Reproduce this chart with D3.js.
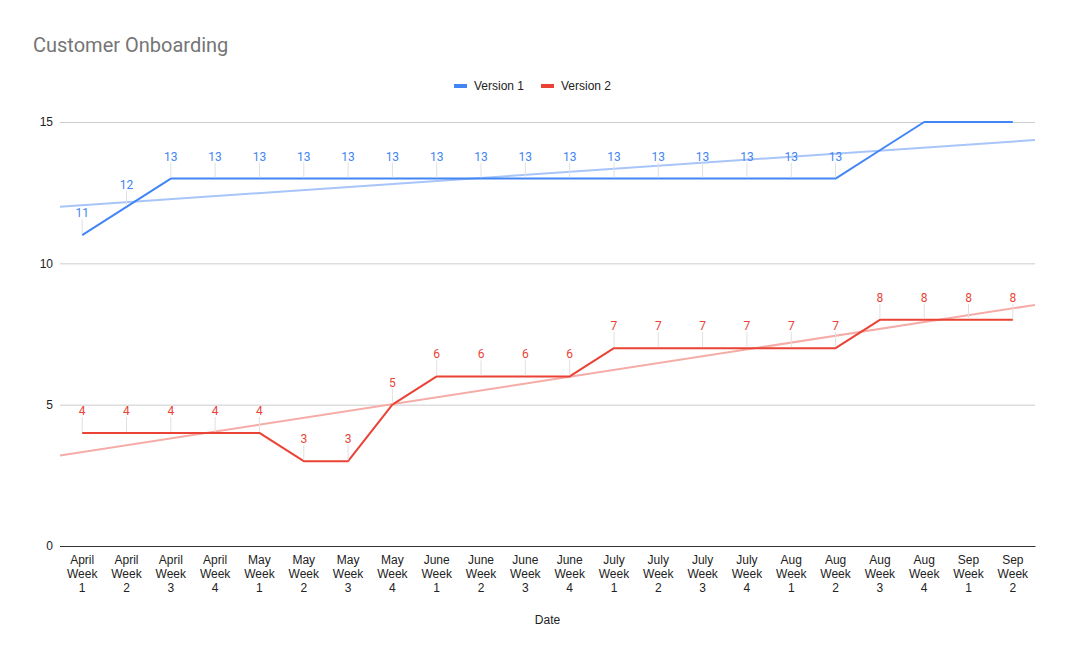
<!DOCTYPE html>
<html><head><meta charset="utf-8">
<script src="https://cdn.jsdelivr.net/npm/d3@7"></script>
<style>body{margin:0;background:#fff;font-family:Roboto,Arial,sans-serif}</style>
</head><body><svg id="c" width="1068" height="660"></svg>
<script>
const categories = ["April Week 1","April Week 2","April Week 3","April Week 4","May Week 1","May Week 2","May Week 3","May Week 4","June Week 1","June Week 2","June Week 3","June Week 4","July Week 1","July Week 2","July Week 3","July Week 4","Aug Week 1","Aug Week 2","Aug Week 3","Aug Week 4","Sep Week 1","Sep Week 2"];
const version1 = [11,12,13,13,13,13,13,13,13,13,13,13,13,13,13,13,13,13,14,15,15,15];
const version2 = [4,4,4,4,4,3,3,5,6,6,6,6,7,7,7,7,7,7,8,8,8,8];
const yTicks = [0,5,10,15];
const version1LabelCount = 18; // labels shown in the reference
const series = [
  {name:"Version 1", values:version1, color:"#4285f4", trend:"#a8c5fa", labels:version1LabelCount},
  {name:"Version 2", values:version2, color:"#ea4335", trend:"#f5aca6", labels:version2.length}
];
const AX = "'Liberation Sans',Arial,sans-serif";

const svg = d3.select("#c");
const L=60, R=1035, T=122, B=546;
const x = d3.scaleBand().domain(categories).range([L,R]);
const cx = d => x(d)+x.bandwidth()/2;
const y = d3.scaleLinear().domain([0,15]).range([B,T]);

svg.append("text").attr("x",33).attr("y",52).attr("font-size",20).attr("fill","#757575").attr("font-family","Roboto,sans-serif").text("Customer Onboarding");

// gridlines
const yAxis = d3.axisLeft(y).tickValues(yTicks).tickSize(-(R-L)).tickFormat(d3.format("d"));
const gy = svg.append("g").attr("transform",`translate(${L},0)`).call(yAxis);
gy.select(".domain").remove();
gy.selectAll(".tick line").attr("stroke","#cccccc");
gy.selectAll(".tick text").attr("x",-7).attr("font-size",12).attr("fill","#222").attr("font-family",AX);
gy.selectAll(".tick").filter(d=>d===0).select("line").attr("stroke","#333");

// x axis
const xAxis = d3.axisBottom(x).tickSize(0).tickFormat("");
const gx = svg.append("g").attr("transform",`translate(0,${B})`).call(xAxis);
gx.select(".domain").attr("stroke","#333");
gx.selectAll(".tick").each(function(d){
  const parts = d.split(" ");
  const t = d3.select(this).append("text").attr("fill","#222").attr("font-size",12).attr("text-anchor","middle").attr("font-family",AX);
  parts.forEach((p,i)=>t.append("tspan").attr("x",0).attr("y",18+i*14).text(p));
});
svg.append("text").attr("x",(L+R)/2).attr("y",624).attr("text-anchor","middle").attr("font-size",12).attr("fill","#222").attr("font-family",AX).text("Date");

// legend
const leg = svg.append("g");
const legItems = [{s:series[0],x:454},{s:series[1],x:541}];
legItems.forEach(it=>{
  leg.append("rect").attr("x",it.x).attr("y",84).attr("width",13).attr("height",4).attr("fill",it.s.color);
  leg.append("text").attr("x",it.x+20).attr("y",90).attr("font-size",12).attr("fill","#222").attr("font-family",AX).text(it.s.name);
});

// clip
svg.append("defs").append("clipPath").attr("id","clip").append("rect").attr("x",L).attr("y",T-1).attr("width",R-L).attr("height",B-T+1);
const plot = svg.append("g").attr("clip-path","url(#clip)");

series.forEach(s=>{
  // trendline via linear regression
  const n=s.values.length;
  const xs=d3.range(n);
  const mx=d3.mean(xs), my=d3.mean(s.values);
  const slope=d3.sum(xs,i=>(i-mx)*(s.values[i]-my))/d3.sum(xs,i=>(i-mx)*(i-mx));
  const icpt=my-slope*mx;
  const step=x.step();
  const xi = px => (px - cx(categories[0]))/step;
  plot.append("line").attr("x1",L).attr("x2",R)
    .attr("y1",y(icpt+slope*xi(L))).attr("y2",y(icpt+slope*xi(R)))
    .attr("stroke",s.trend).attr("stroke-width",2);
});

series.forEach(s=>{
  const line=d3.line().x((d,i)=>cx(categories[i])).y(d=>y(d));
  plot.append("path").datum(s.values).attr("d",line).attr("fill","none").attr("stroke",s.color).attr("stroke-width",2).attr("stroke-linejoin","round");
  const lab = svg.append("g");
  s.values.forEach((v,i)=>{
    if(i>=s.labels) return;
    const px=cx(categories[i]), py=y(v);
    lab.append("line").attr("x1",px).attr("x2",px).attr("y1",py-1).attr("y2",py-16).attr("stroke","#e0e0e0").attr("stroke-width",1);
    lab.append("text").attr("x",px).attr("y",py-18).attr("text-anchor","middle").attr("font-size",12).attr("fill",s.color).attr("font-family","Roboto,sans-serif").text(v);
  });
});
</script></body></html>
